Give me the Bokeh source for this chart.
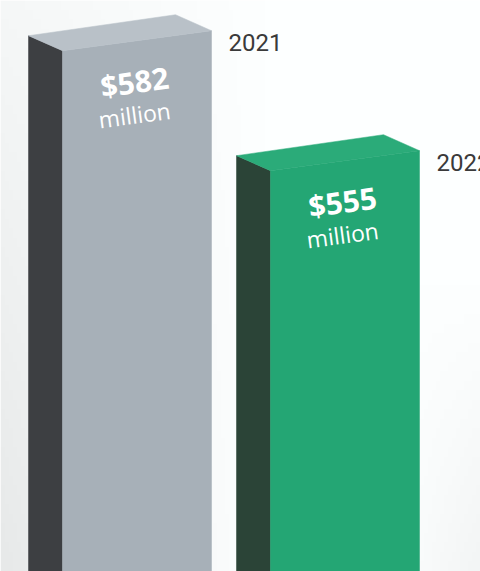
import math
import numpy as np
from bokeh.plotting import figure
from bokeh.models import Range1d, ColumnDataSource
from bokeh.core.properties import value
from bokeh.embed import file_html
from bokeh.resources import INLINE

# ---- data ----
years = ["2021", "2022"]
amounts = [582, 555]          # $ million
value_labels = ["$582", "$555"]
unit_labels = ["million", "million"]

# ---- style / layout ----
front_colors = ["#a7b0b8", "#24a674"]
top_colors = ["#b9c1c8", "#2bab79"]
side_colors = ["#3d3f42", "#2b4437"]
W, H = 480, 571
Y0, Y1 = 464.8, 593.3
k = H / (Y1 - Y0)            # px per unit
front_left = [62, 270]
FW = 149                      # front face width
SD = 34                       # side depth
def u(px):
    return px / k

p = figure(width=W, height=H, output_backend="svg", toolbar_location=None,
           x_range=Range1d(0, W), y_range=Range1d(Y0, Y1), min_border=0)
p.axis.visible = False
p.grid.visible = False
p.outline_line_color = None
p.background_fill_color = "white"
p.border_fill_color = "white"

# subtle background shading
nx, ny = 120, 60
xs = np.linspace(0, 1, nx)
ys = np.linspace(0, 1, ny)
X, Y = np.meshgrid(xs, ys)
shade = np.clip(1 - X / 0.55, 0, 1) * (0.35 + 0.65 * (1 - Y)) * 22
shade2 = np.clip((X - 0.8) / 0.2, 0, 1) * np.clip(1 - Y / 0.5, 0, 1) * 10
g = 255 - shade - shade2
img = np.zeros((ny, nx), dtype=np.uint32)
view = img.view(dtype=np.uint8).reshape((ny, nx, 4))
view[:, :, 0] = np.clip(g - 2, 0, 255).astype(np.uint8)
view[:, :, 1] = np.clip(g, 0, 255).astype(np.uint8)
view[:, :, 2] = np.clip(g, 0, 255).astype(np.uint8)
view[:, :, 3] = 255
p.image_rgba(image=[img], x=0, y=Y0, dw=W, dh=Y1 - Y0)

base = Y0 - 1
front_xs, front_ys, side_xs, side_ys, top_xs, top_ys = [], [], [], [], [], []
for fl, v in zip(front_left, amounts):
    front_xs.append([fl, fl, fl + FW, fl + FW])
    front_ys.append([base, v, v + u(20), base])
    side_xs.append([fl - SD, fl - SD, fl, fl])
    side_ys.append([base, v + u(15), v, base])
    top_xs.append([fl - SD, fl + 113, fl + FW, fl])
    top_ys.append([v + u(15), v + u(36), v + u(20), v])

p.patches(xs=side_xs, ys=side_ys, fill_color=side_colors, line_color=side_colors, line_width=0.5)
p.patches(xs=front_xs, ys=front_ys, fill_color=front_colors, line_color=front_colors, line_width=0.5)
p.patches(xs=top_xs, ys=top_ys, fill_color=top_colors, line_color=top_colors, line_width=0.5)

ang = math.atan(20 / FW)
src = ColumnDataSource(dict(
    x=[fl + 72 for fl in front_left],
    y_val=[v - u(31) for v in amounts],
    y_unit=[v - u(64) for v in amounts],
    vl=value_labels, ul=unit_labels,
    yx=[fl + 166 for fl in front_left],
    yy=[v + u(8) for v in amounts],
    yr=years,
))
p.text(x="x", y="y_val", text="vl", source=src, angle=ang, text_align="center",
       text_baseline="middle", text_color="white", text_font=value("Open Sans"),
       text_font_style="bold", text_font_size="30px")
p.text(x="x", y="y_unit", text="ul", source=src, angle=ang, text_align="center",
       text_baseline="middle", text_color="white", text_font=value("Open Sans"),
       text_font_size="23px")
p.text(x="yx", y="yy", text="yr", source=src, text_align="left",
       text_baseline="middle", text_color="#3a3a3a", text_font=value("Roboto"),
       text_font_size="24px")

open("out.html", "w").write(file_html(p, INLINE))
